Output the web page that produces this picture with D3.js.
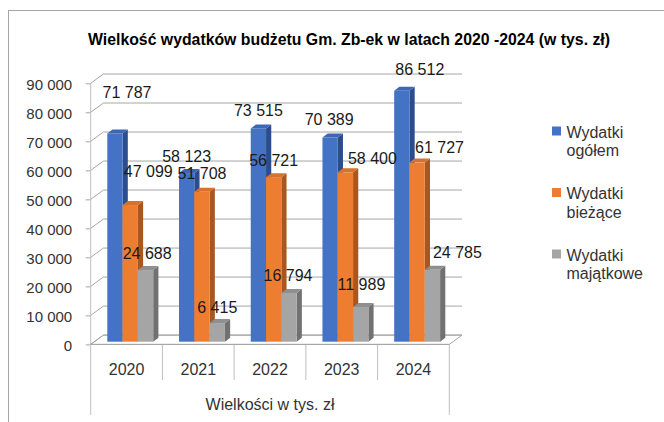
<!DOCTYPE html>
<html>
<head>
<meta charset="utf-8">
<script src="https://cdn.jsdelivr.net/npm/d3@7/dist/d3.min.js"></script>
<style>
  html, body { margin: 0; padding: 0; background: #fff; }
  svg { display: block; font-family: "Liberation Sans", Arial, sans-serif; }
</style>
</head>
<body>
<svg id="chart" width="664" height="422"></svg>
<script>
// ---- data ----
const years = ["2020", "2021", "2022", "2023", "2024"];
const seriesNames = ["Wydatki ogółem", "Wydatki bieżące", "Wydatki majątkowe"];
const legendLines = [["Wydatki", "ogółem"], ["Wydatki", "bieżące"], ["Wydatki", "majątkowe"]];
const ogolem = [71787, 58123, 73515, 70389, 86512];
const biezace = [47099, 51708, 56721, 58400, 61727];
const majatkowe = [24688, 6415, 16794, 11989, 24785];
const yTicks = [0, 10000, 20000, 30000, 40000, 50000, 60000, 70000, 80000, 90000];
const titleText = "Wielkość wydatków budżetu Gm. Zb-ek w latach 2020 -2024 (w tys. zł)";
const axisTitle = "Wielkości w tys. zł";

// ---- layout / style (kept separate from data) ----
const colors = ["#4472C4", "#ED7D31", "#A5A5A5"];
const sideColors = ["#2B4D8E", "#A9561F", "#717171"];
const topColors = ["#3E67B3", "#D8712B", "#8F8F8F"];
// label nudges relative to (bar front centre, bar front top)
const labelNudge = [
  [[12, -41], [0, -17], [0, -18.5], [-1, -18.3], [18, -21.5]],
  [[18, -33.6], [0, -18], [0, -17], [27, -14.3], [22.4, -15.4]],
  [[1.6, -17], [0, -16], [-1, -17.2], [0.7, -22.7], [25, -17.3]]
];

const allSeries = [ogolem, biezace, majatkowe];
const svg = d3.select("#chart");
const fmtLocale = d3.formatLocale({decimal: ",", thousands: "\u00a0", grouping: [3], currency: ["", ""]});
const fmt = fmtLocale.format(",d");

// chart border
svg.append("rect").attr("x", 8.5).attr("y", 10.5).attr("width", 720).attr("height", 450)
  .attr("fill", "#fff").attr("stroke", "#A6A6A6").attr("stroke-width", 1);

// scales
const xLeft = 90.7, xRight = 449.3;
const x0 = d3.scaleBand().domain(years).range([xLeft, xRight]).paddingInner(0).paddingOuter(0);
const x1 = d3.scaleBand().domain(seriesNames).range([0, x0.bandwidth()]).paddingInner(0).paddingOuter(0.843);
const y = d3.scaleLinear().domain([0, 90000]).range([344.4, 83.3]);

const wall = {dx: 12.7, dy: -9.3};           // depth of whole plot
const barFront = {dx: 3.7, dy: -2.7};        // bars' front plane offset
const barDepth = {dx: 5.2, dy: -4};          // bar thickness

const gridColor = "#A6A6A6";

// floor
const y0 = y(0);
svg.append("polygon")
  .attr("points", [[xLeft, y0], [xRight, y0], [xRight + wall.dx, y0 + wall.dy], [xLeft + wall.dx, y0 + wall.dy]].map(p => p.join(",")).join(" "))
  .attr("fill", "#fff").attr("stroke", gridColor).attr("stroke-width", 1);

// gridlines on back wall + side wall diagonals
const grid = svg.append("g");
yTicks.forEach(v => {
  const yy = y(v);
  grid.append("line").attr("x1", xLeft + wall.dx).attr("x2", xRight + wall.dx)
    .attr("y1", yy + wall.dy).attr("y2", yy + wall.dy)
    .attr("stroke", gridColor).attr("stroke-width", 1);
  grid.append("line").attr("x1", xLeft).attr("x2", xLeft + wall.dx)
    .attr("y1", yy).attr("y2", yy + wall.dy)
    .attr("stroke", gridColor).attr("stroke-width", 1);
});

// y axis
const yAxis = d3.axisLeft(y).tickValues(yTicks).tickFormat(fmt).tickSize(5).tickPadding(13.5);
const yg = svg.append("g").attr("transform", `translate(${xLeft},0)`).call(yAxis);
yg.select(".domain").remove();
yg.selectAll(".tick line").attr("stroke", gridColor);
yg.selectAll(".tick text").attr("fill", "#333").attr("font-size", 15)
  .attr("font-family", "Liberation Sans, Arial, sans-serif").attr("dy", "0.4em");

// category table lines
const tableColor = "#BFBFBF";
svg.append("line").attr("x1", xLeft).attr("x2", xLeft).attr("y1", y(90000)).attr("y2", 415)
  .attr("stroke", tableColor).attr("stroke-width", 1);
svg.append("line").attr("x1", xRight).attr("x2", xRight).attr("y1", y0).attr("y2", 415)
  .attr("stroke", tableColor).attr("stroke-width", 1);
years.slice(1).forEach(yr => {
  svg.append("line").attr("x1", x0(yr)).attr("x2", x0(yr)).attr("y1", y0).attr("y2", 380)
    .attr("stroke", tableColor).attr("stroke-width", 1);
});
svg.append("line").attr("x1", xLeft).attr("x2", xRight).attr("y1", y0).attr("y2", y0)
  .attr("stroke", gridColor).attr("stroke-width", 1);

// category labels
const xAxis = d3.axisBottom(x0).tickSize(0).tickPadding(0);
const xg = svg.append("g").attr("transform", `translate(0,369)`).call(xAxis);
xg.select(".domain").remove();
xg.selectAll(".tick text").attr("fill", "#333").attr("font-size", 16)
  .attr("font-family", "Liberation Sans, Arial, sans-serif").attr("dy", "0.35em");

svg.append("text").attr("x", (xLeft + xRight) / 2).attr("y", 404).attr("dy", "0.35em")
  .attr("text-anchor", "middle").attr("font-size", 16).attr("fill", "#333").text(axisTitle);

// 3D bars
const barsG = svg.append("g");
years.forEach((yr, ci) => {
  allSeries.forEach((vals, si) => {
    const v = vals[ci];
    const xl = x0(yr) + x1(seriesNames[si]) + barFront.dx;
    const w = x1.bandwidth();
    const yt = y(v) + barFront.dy;
    const yb = y(0) + barFront.dy;
    const g = barsG.append("g");
    g.append("polygon").attr("points", [[xl + w, yt], [xl + w + barDepth.dx, yt + barDepth.dy], [xl + w + barDepth.dx, yb + barDepth.dy], [xl + w, yb]].map(p => p.join(",")).join(" "))
      .attr("fill", sideColors[si]);
    g.append("polygon").attr("points", [[xl, yt], [xl + w, yt], [xl + w + barDepth.dx, yt + barDepth.dy], [xl + barDepth.dx, yt + barDepth.dy]].map(p => p.join(",")).join(" "))
      .attr("fill", topColors[si]);
    g.append("rect").attr("x", xl).attr("y", yt).attr("width", w).attr("height", yb - yt)
      .attr("fill", colors[si]);
  });
});

// data labels
const labG = svg.append("g");
years.forEach((yr, ci) => {
  allSeries.forEach((vals, si) => {
    const v = vals[ci];
    const cx = x0(yr) + x1(seriesNames[si]) + barFront.dx + x1.bandwidth() / 2;
    const yt = y(v) + barFront.dy;
    const [ndx, ndy] = labelNudge[si][ci];
    labG.append("text").attr("x", cx + ndx).attr("y", yt + ndy).attr("dy", "0.35em")
      .attr("text-anchor", "middle").attr("font-size", 16).attr("fill", "#1a1a1a").text(fmt(v));
  });
});

// legend
const lg = svg.append("g");
seriesNames.forEach((s, i) => {
  const yc = 131 + 61.5 * i;
  lg.append("rect").attr("x", 552).attr("y", yc - 4.5).attr("width", 9).attr("height", 9).attr("fill", colors[i]);
  legendLines[i].forEach((ln, j) => {
    lg.append("text").attr("x", 566.5).attr("y", yc + 6.5 + j * 18.5).attr("font-size", 16)
      .attr("fill", "#333").text(ln);
  });
});

// title
svg.append("text").attr("x", 349).attr("y", 39).attr("dy", "0.35em").attr("text-anchor", "middle")
  .attr("font-size", 16).attr("font-weight", "bold").attr("fill", "#000")
  .attr("font-family", "'Liberation Sans Narrow', 'Liberation Sans', Arial, sans-serif")
  .attr("textLength", 522).attr("lengthAdjust", "spacingAndGlyphs")
  .text(titleText);
</script>
</body>
</html>
